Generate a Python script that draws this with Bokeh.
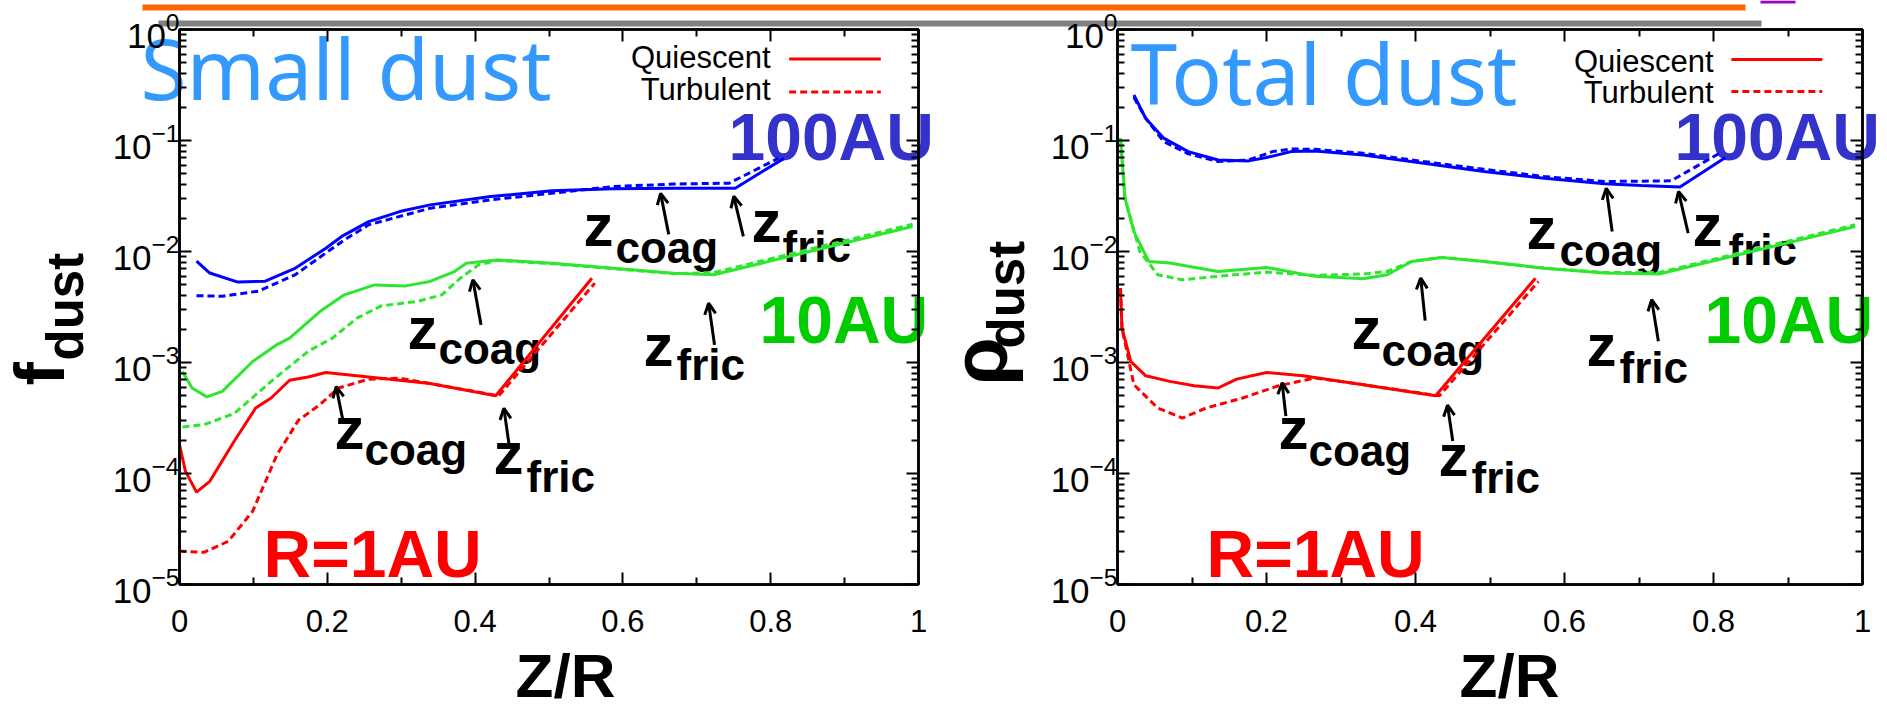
import math
from bokeh.plotting import figure
from bokeh.models import (Range1d, LogAxis, LinearAxis, FixedTicker, LogTickFormatter,
                          CustomJSTickFormatter, Label, Arrow, OpenHead, BoxAnnotation,
                          ColumnDataSource, GridBox)
from bokeh.layouts import row
from bokeh.embed import file_html
from bokeh.resources import INLINE

# ------------------------------------------------------------------ data
# Small dust (f_dust), left panel
small_q100_x = [0.023, 0.041, 0.079, 0.116, 0.157, 0.198, 0.219, 0.256, 0.298, 0.339, 0.421, 0.504, 0.587, 0.669, 0.752, 0.818]
small_q100_y = [8.2e-3, 6.4e-3, 5.3e-3, 5.4e-3, 7.1e-3, 1.07e-2, 1.36e-2, 1.86e-2, 2.29e-2, 2.63e-2, 3.13e-2, 3.52e-2, 3.67e-2, 3.72e-2, 3.72e-2, 6.9e-2]
small_t100_x = [0.023, 0.058, 0.107, 0.157, 0.198, 0.223, 0.256, 0.339, 0.421, 0.504, 0.587, 0.669, 0.744, 0.810]
small_t100_y = [4.0e-3, 3.95e-3, 4.4e-3, 6.2e-3, 9.7e-3, 1.27e-2, 1.74e-2, 2.45e-2, 2.92e-2, 3.35e-2, 3.85e-2, 4.05e-2, 4.13e-2, 6.9e-2]

small_q10_x = [0.004, 0.017, 0.037, 0.058, 0.099, 0.132, 0.149, 0.190, 0.223, 0.264, 0.306, 0.339, 0.372, 0.388, 0.430, 0.504, 0.587, 0.669, 0.723, 0.992]
small_q10_y = [8.3e-4, 5.9e-4, 4.9e-4, 5.5e-4, 1.02e-3, 1.45e-3, 1.66e-3, 2.88e-3, 4.07e-3, 5.0e-3, 4.9e-3, 5.37e-3, 6.6e-3, 7.85e-3, 8.4e-3, 7.85e-3, 7.08e-3, 6.38e-3, 6.17e-3, 1.68e-2]
small_t10_x = [0.004, 0.033, 0.074, 0.124, 0.174, 0.207, 0.240, 0.273, 0.322, 0.355, 0.380, 0.405, 0.430, 0.504, 0.587, 0.669, 0.723, 0.992]
small_t10_y = [2.63e-4, 2.75e-4, 3.47e-4, 6.76e-4, 1.26e-3, 1.66e-3, 2.51e-3, 3.24e-3, 3.55e-3, 4.07e-3, 5.75e-3, 7.59e-3, 8.32e-3, 7.76e-3, 7.0e-3, 6.31e-3, 6.46e-3, 1.76e-2]

small_q1_x = [0.0, 0.008, 0.023, 0.041, 0.074, 0.103, 0.124, 0.149, 0.174, 0.198, 0.256, 0.339, 0.428, 0.558]
small_q1_y = [1.82e-4, 1.05e-4, 6.8e-5, 8.5e-5, 1.95e-4, 3.89e-4, 4.79e-4, 6.92e-4, 7.41e-4, 8.13e-4, 7.41e-4, 6.46e-4, 5.01e-4, 5.75e-3]
small_t1_x = [0.0, 0.033, 0.066, 0.099, 0.132, 0.161, 0.190, 0.215, 0.256, 0.298, 0.339, 0.432, 0.562]
small_t1_y = [2.0e-5, 1.95e-5, 2.45e-5, 4.57e-5, 1.48e-4, 3.02e-4, 4.17e-4, 5.89e-4, 7.08e-4, 7.24e-4, 6.46e-4, 5.01e-4, 5.19e-3]

# Total dust (rho_dust), right panel
total_q100_x = [0.022, 0.038, 0.062, 0.095, 0.135, 0.176, 0.200, 0.233, 0.265, 0.330, 0.411, 0.492, 0.573, 0.654, 0.703, 0.755, 0.816]
total_q100_y = [0.257, 0.158, 0.105, 0.0794, 0.0668, 0.0655, 0.0702, 0.0794, 0.0805, 0.0741, 0.0624, 0.0525, 0.0457, 0.0407, 0.0393, 0.0382, 0.0702]
total_t100_x = [0.022, 0.038, 0.062, 0.095, 0.135, 0.176, 0.208, 0.233, 0.265, 0.330, 0.411, 0.492, 0.573, 0.654, 0.743, 0.808]
total_t100_y = [0.245, 0.158, 0.0977, 0.0759, 0.0646, 0.0668, 0.0794, 0.0839, 0.0832, 0.0767, 0.0646, 0.0550, 0.0473, 0.0427, 0.0433, 0.0767]

total_q10_x = [0.004, 0.010, 0.022, 0.042, 0.070, 0.135, 0.200, 0.265, 0.330, 0.362, 0.395, 0.435, 0.492, 0.573, 0.654, 0.727, 0.990]
total_q10_y = [0.105, 0.0302, 0.0151, 8.13e-3, 7.87e-3, 6.61e-3, 7.19e-3, 5.97e-3, 5.69e-3, 6.17e-3, 8.13e-3, 8.85e-3, 8.13e-3, 7.08e-3, 6.40e-3, 6.27e-3, 1.68e-2]
total_t10_x = [0.004, 0.010, 0.030, 0.054, 0.087, 0.135, 0.200, 0.265, 0.330, 0.362, 0.395, 0.435, 0.492, 0.573, 0.654, 0.727, 0.990]
total_t10_y = [0.105, 0.0302, 0.0100, 6.17e-3, 5.57e-3, 5.97e-3, 6.53e-3, 6.10e-3, 6.27e-3, 6.61e-3, 8.13e-3, 8.85e-3, 8.13e-3, 7.08e-3, 6.46e-3, 6.46e-3, 1.74e-2]

total_q1_x = [0.004, 0.006, 0.018, 0.038, 0.070, 0.103, 0.135, 0.160, 0.200, 0.249, 0.330, 0.427, 0.561]
total_q1_y = [4.68e-3, 2.04e-3, 1.02e-3, 7.59e-4, 6.76e-4, 6.17e-4, 5.89e-4, 7.08e-4, 8.13e-4, 7.59e-4, 6.31e-4, 5.01e-4, 5.75e-3]
total_t1_x = [0.004, 0.006, 0.022, 0.054, 0.087, 0.119, 0.168, 0.216, 0.265, 0.330, 0.432, 0.565]
total_t1_y = [4.68e-3, 2.04e-3, 6.31e-4, 3.89e-4, 3.16e-4, 3.89e-4, 4.79e-4, 6.17e-4, 7.24e-4, 6.31e-4, 5.01e-4, 5.37e-3]

x_ticks = [0, 0.2, 0.4, 0.6, 0.8, 1]
x_tick_labels = ["0", "0.2", "0.4", "0.6", "0.8", "1"]
x_minor_ticks = [0.1, 0.3, 0.5, 0.7, 0.9]
y_ticks = [1e-5, 1e-4, 1e-3, 1e-2, 1e-1, 1]
y_minor_ticks = [m * 10.0 ** e for e in range(-5, 0) for m in range(2, 10)]

legend_labels = ["Quiescent", "Turbulent"]
radius_labels = ["100AU", "10AU", "R=1AU"]
panel_titles = ["Small dust", "Total dust"]
y_titles = ["f", "\u03c1"]

# ------------------------------------------------------------------ styles / placement
BLUE = "#0000ff"
GREEN = "#2ee62e"
RED = "#ff0000"
LAB_COLORS = ["#3333cc", "#00cc00", "#ff0000"]
TITLE_COLOR = "#3399ff"
FONT = "Liberation Sans"
LW = 3
DASH = "7 4"
BASE_K = 0.36      # baseline correction, horizontal labels (fraction of font size)
BASE_K_ROT = 0.48  # baseline correction, rotated labels

panels = [
    dict(
        series=[(small_q100_x, small_q100_y, BLUE, "solid"), (small_t100_x, small_t100_y, BLUE, DASH),
                (small_q10_x, small_q10_y, GREEN, "solid"), (small_t10_x, small_t10_y, GREEN, DASH),
                (small_q1_x, small_q1_y, RED, "solid"), (small_t1_x, small_t1_y, RED, DASH)],
        fw=739, fh=555, bl=179, br=30, bt=29, bb=127,
        leg_line_x=(0.825, 0.949), leg_line_y=[-0.266, -0.564],
        arrows=[(0.662, -1.846, 0.651, -1.476), (0.763, -1.864, 0.750, -1.503),
                (0.408, -2.661, 0.397, -2.255), (0.724, -2.841, 0.716, -2.466),
                (0.221, -3.518, 0.212, -3.217), (0.446, -3.744, 0.439, -3.413)],
        title_px=(140, 97),
        leg_px=(770, [68, 100]),
        rad_px=[(728, 160), (759, 343), (263, 577)],
        z_px=[("coag", 583, 247, 615, 263), ("fric", 751, 243, 782, 262),
              ("coag", 407, 350, 438, 364), ("fric", 643, 367, 676, 380),
              ("coag", 334, 450, 364, 465), ("fric", 493, 475, 526, 492)],
        ytitle_px=(73, 385, 70), ysub_px=(89, 360),
        xtitle_px=(565, 697),
    ),
    dict(
        series=[(total_q100_x, total_q100_y, BLUE, "solid"), (total_t100_x, total_t100_y, BLUE, DASH),
                (total_q10_x, total_q10_y, GREEN, "solid"), (total_t10_x, total_t10_y, GREEN, DASH),
                (total_q1_x, total_q1_y, RED, "solid"), (total_t1_x, total_t1_y, RED, DASH)],
        fw=745, fh=555, bl=169, br=25, bt=29, bb=127,
        leg_line_x=(0.824, 0.946), leg_line_y=[-0.270, -0.558],
        arrows=[(0.664, -1.820, 0.656, -1.430), (0.766, -1.835, 0.753, -1.460),
                (0.413, -2.623, 0.407, -2.239), (0.726, -2.809, 0.717, -2.434),
                (0.226, -3.483, 0.221, -3.183), (0.450, -3.708, 0.443, -3.384)],
        title_px=(1130, 102),
        leg_px=(1713, [72, 103]),
        rad_px=[(1674, 160), (1704, 343), (1206, 577)],
        z_px=[("coag", 1526, 250, 1559, 266), ("fric", 1692, 247, 1728, 265),
              ("coag", 1351, 350, 1381, 366), ("fric", 1586, 367, 1619, 383),
              ("coag", 1278, 450, 1308, 466), ("fric", 1438, 477, 1471, 493)],
        ytitle_px=(1017, 385, 78), ysub_px=(1030, 348),
        xtitle_px=(1509, 697),
    ),
]

CANVAS_W, CANVAS_H = 1887, 711


def style_axis(ax, show_labels, log):
    ax.axis_line_color = "black"
    ax.axis_line_width = 2.5
    ax.major_tick_line_color = "black"
    ax.minor_tick_line_color = "black"
    ax.major_tick_line_width = 2
    ax.minor_tick_line_width = 2
    ax.major_tick_in = 12
    ax.major_tick_out = 0
    ax.minor_tick_in = 7
    ax.minor_tick_out = 0
    if log:
        ax.ticker = FixedTicker(ticks=y_ticks, minor_ticks=y_minor_ticks)
    else:
        ax.ticker = FixedTicker(ticks=x_ticks, minor_ticks=x_minor_ticks)
    if show_labels:
        ax.major_label_text_font = FONT
        ax.major_label_text_color = "black"
        if log:
            ax.formatter = LogTickFormatter()
            ax.major_label_text_font_size = "35px"
            ax.major_label_standoff = 0
        else:
            ax.major_label_overrides = dict(zip(x_ticks, x_tick_labels))
            ax.major_label_text_font_size = "31px"
            ax.major_label_standoff = 25
    else:
        ax.formatter = CustomJSTickFormatter(code="return ''")
        ax.major_label_standoff = 0


figs = []
for cfg in panels:
    p = figure(frame_width=cfg["fw"], frame_height=cfg["fh"],
               min_border_left=cfg["bl"], min_border_right=cfg["br"],
               min_border_top=cfg["bt"], min_border_bottom=cfg["bb"],
               x_range=Range1d(0, 1), y_range=Range1d(1e-5, 1), y_axis_type="log",
               output_backend="svg", toolbar_location=None, tools="")
    p.grid.visible = False
    # transparent so the text/decoration layer underneath shows through
    p.background_fill_color = None
    p.border_fill_color = None
    p.outline_line_color = "black"
    p.outline_line_width = 2.5

    style_axis(p.xaxis[0], True, False)
    style_axis(p.yaxis[0], True, True)
    top = LinearAxis()
    style_axis(top, False, False)
    p.add_layout(top, "above")
    right = LogAxis()
    style_axis(right, False, True)
    p.add_layout(right, "right")

    for xs, ys, col, dash in cfg["series"]:
        p.line(xs, ys, line_color=col, line_width=LW, line_dash=dash)

    lx0, lx1 = cfg["leg_line_x"]
    for i in range(len(legend_labels)):
        ly = 10 ** cfg["leg_line_y"][i]
        p.line([lx0, lx1], [ly, ly], line_color=RED, line_width=LW,
               line_dash="solid" if i == 0 else DASH)

    a = cfg["arrows"]
    src = ColumnDataSource(dict(x0=[t[0] for t in a], y0=[10 ** t[1] for t in a],
                                x1=[t[2] for t in a], y1=[10 ** t[3] for t in a]))
    p.add_layout(Arrow(source=src, x_start="x0", y_start="y0", x_end="x1", y_end="y1",
                       line_width=3, line_color="black",
                       end=OpenHead(size=11, line_width=3, line_color="black")))
    figs.append(p)

# ------------------------------------------------------------------ text / decoration layer (under the plots)
ov = figure(width=CANVAS_W, height=CANVAS_H, x_range=Range1d(0, CANVAS_W), y_range=Range1d(CANVAS_H, 0),
            min_border=0, x_axis_location=None, y_axis_location=None,
            output_backend="svg", toolbar_location=None, tools="")
ov.grid.visible = False
ov.background_fill_color = "white"
ov.border_fill_color = "white"
ov.outline_line_color = None


def txt(text, x, y, size, color="black", bold=True, align="left", rotated=False, font=FONT):
    if rotated:
        ax, ay, ang = x - BASE_K_ROT * size, y, math.pi / 2
    else:
        ax, ay, ang = x, y - BASE_K * size, 0.0
    ov.add_layout(Label(x=ax, y=ay, text=text, text_font=font, text_font_size=f"{size}px",
                        text_font_style="bold" if bold else "normal", text_color=color,
                        text_align=align, text_baseline="alphabetic", angle=ang))


# slide decoration bars at the top
ov.add_layout(BoxAnnotation(left=142, right=1745, top=4, bottom=10, fill_color="#ff6600",
                            fill_alpha=1, line_color=None))
ov.add_layout(BoxAnnotation(left=158, right=1761, top=20, bottom=26, fill_color="#808080",
                            fill_alpha=1, line_color=None))
ov.add_layout(BoxAnnotation(left=1760, right=1795, top=0, bottom=3, fill_color="#9900cc",
                            fill_alpha=1, line_color=None))

for k, cfg in enumerate(panels):
    tx, ty = cfg["title_px"]
    txt(panel_titles[k], tx, ty, 84, color=TITLE_COLOR, bold=False, font="Noto Sans")
    lx, lys = cfg["leg_px"]
    for name, ly in zip(legend_labels, lys):
        txt(name, lx, ly, 31, bold=False, align="right")
    for (rx, ry), name, col in zip(cfg["rad_px"], radius_labels, LAB_COLORS):
        txt(name, rx, ry, 66, color=col)
    for sub, zx, zy, sx, sy in cfg["z_px"]:
        txt("z", zx, zy, 60)
        txt(sub, sx, sy, 44)
    yx, yy, ysz = cfg["ytitle_px"]
    txt(y_titles[k], yx, yy, ysz, rotated=True)
    sx, sy = cfg["ysub_px"]
    txt("dust", sx, sy, 51, rotated=True)
    xx, xy = cfg["xtitle_px"]
    txt("Z/R", xx, xy, 62, align="center")

mains = row(figs[0], figs[1])
grid = GridBox(children=[(ov, 0, 0), (mains, 0, 0)])
open("out.html", "w").write(file_html(grid, INLINE))
